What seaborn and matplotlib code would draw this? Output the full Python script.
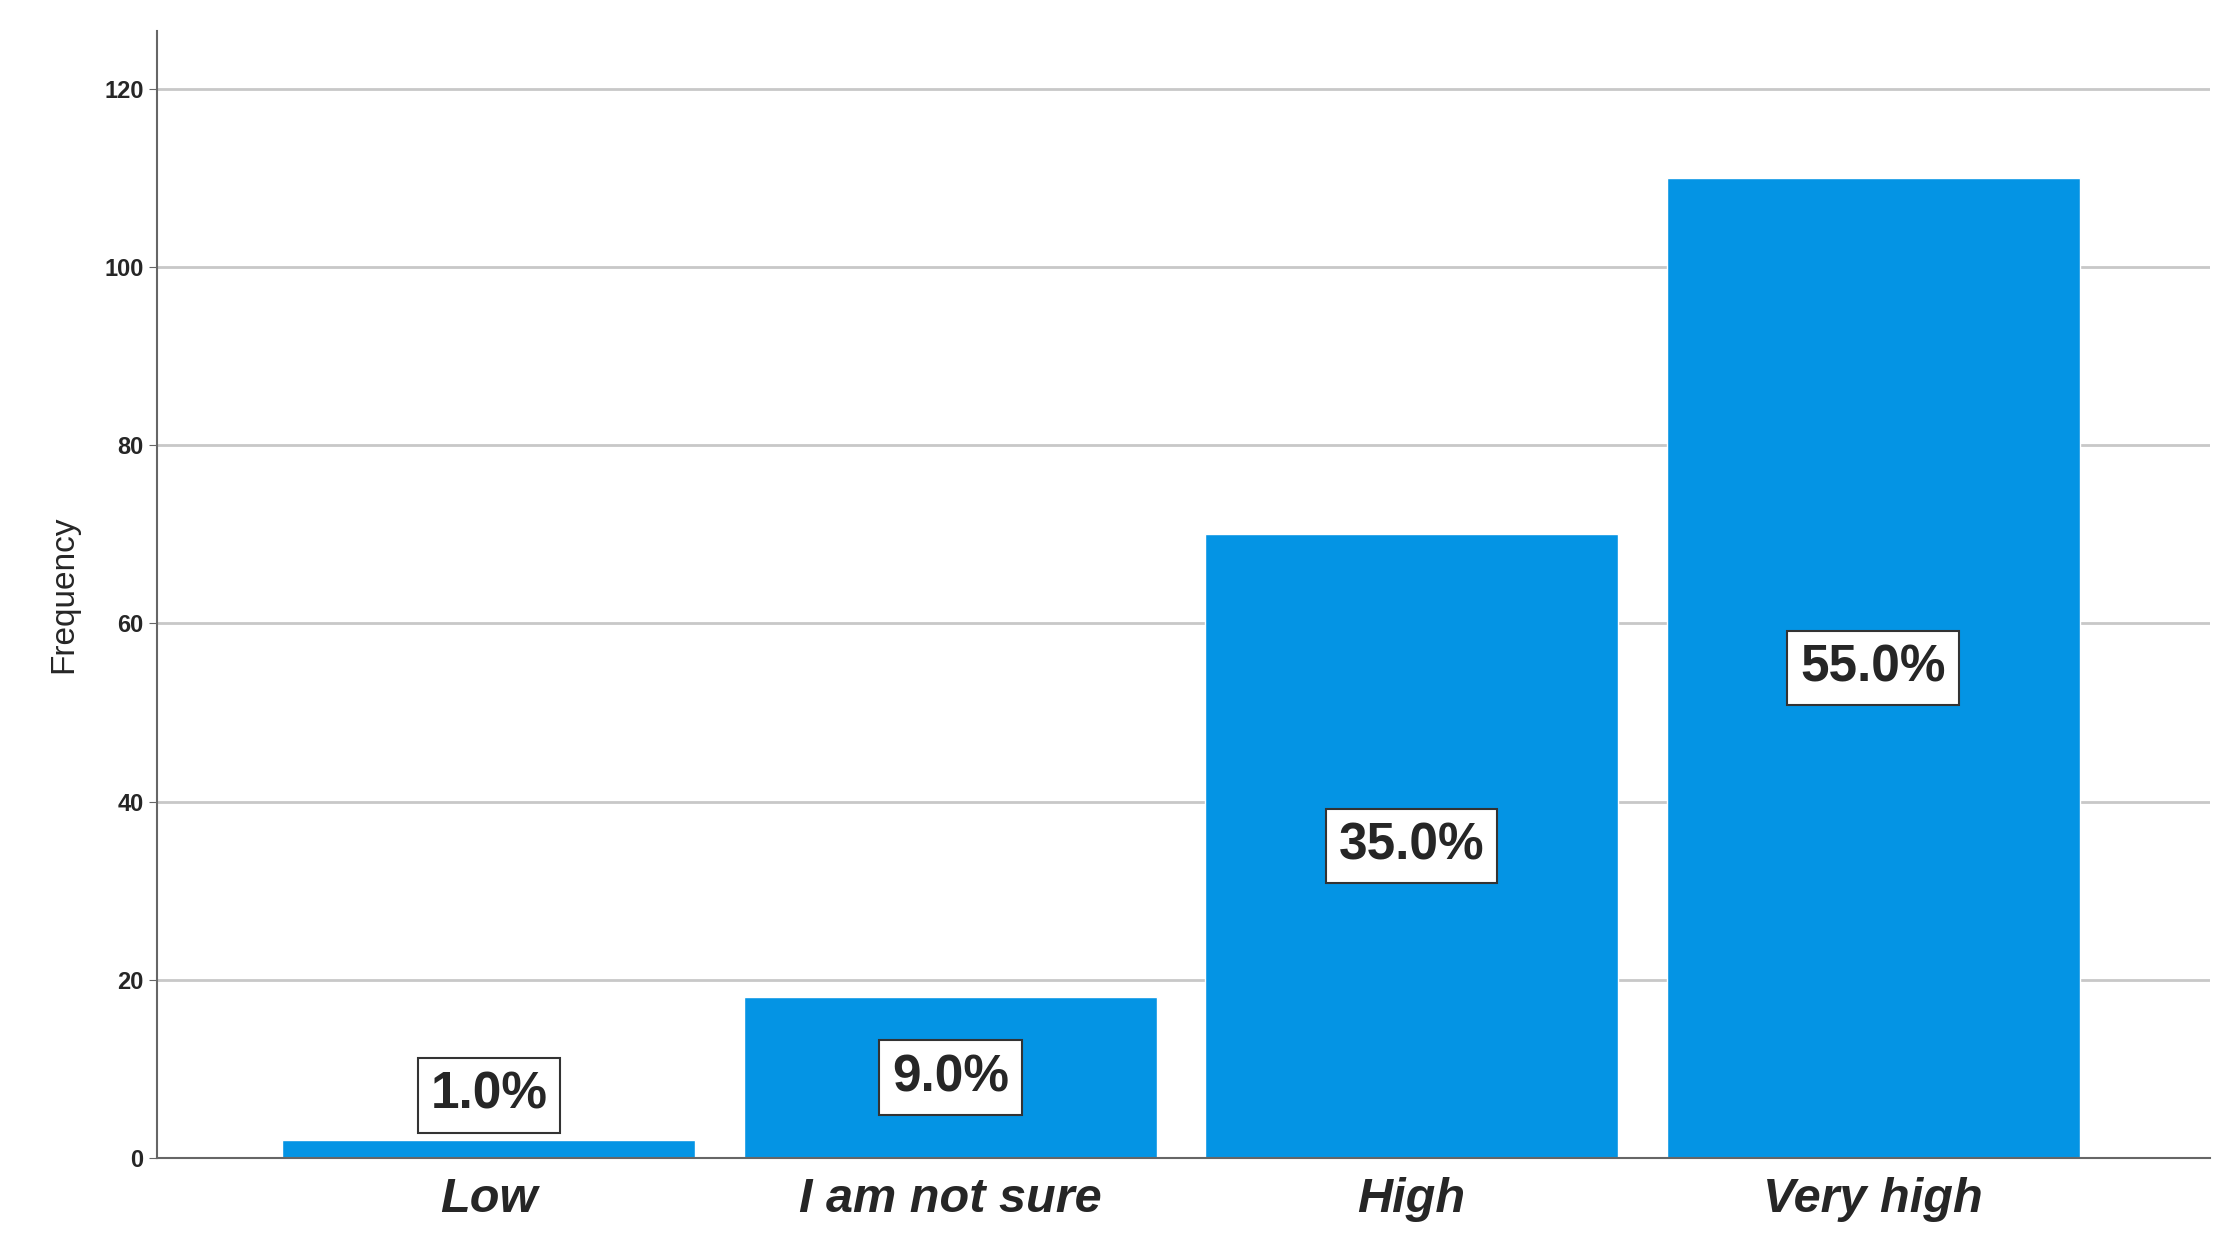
import matplotlib
matplotlib.use("Agg")
import matplotlib.pyplot as plt
import seaborn as sns
import pandas as pd

categories = ["Low", "I am not sure", "High", "Very high"]
frequency = [2, 18, 70, 110]
percent_labels = ["1.0%", "9.0%", "35.0%", "55.0%"]

sns.set_style("white")
plt.rcParams['font.family'] = ['Liberation Sans', 'DejaVu Sans']

fig = plt.figure(figsize=(22.39, 12.53), dpi=100)
ax = fig.add_axes([0.070, 0.076, 0.917, 0.899])
df = pd.DataFrame({"cat": categories, "freq": frequency})
sns.barplot(data=df, x="cat", y="freq", color="#0494E4", width=0.895, ax=ax, zorder=2, saturation=1)
ax.set_xlim(-0.72, 3.73)
ax.set_ylim(0, 126.5)
ax.set_yticks(range(0, 121, 20))
ax.yaxis.grid(True, color="#C8C8C8", linewidth=2, zorder=0)
ax.set_axisbelow(True)
for s in ["top", "right"]:
    ax.spines[s].set_visible(False)
for s in ["left", "bottom"]:
    ax.spines[s].set_color("#666666")
    ax.spines[s].set_linewidth(1.5)
ax.tick_params(axis="y", labelsize=17, length=6, left=True, color="#666666")
for t in ax.get_yticklabels():
    t.set_fontweight("bold")
ax.tick_params(axis="x", labelsize=35, length=0, pad=14)
for t in ax.get_xticklabels():
    t.set_fontweight("bold"); t.set_fontstyle("italic")
ax.set_xlabel("")
ax.set_ylabel("Frequency", fontsize=24, labelpad=18)
for i, (v, lab) in enumerate(zip(frequency, percent_labels)):
    ax.text(i, max(v / 2, 7), lab, ha="center", va="center", fontsize=37, fontweight="bold",
            bbox=dict(boxstyle="square,pad=0.25", fc="white", ec="#333333", lw=1.5), zorder=5)
fig.savefig("out.png", dpi=100)
